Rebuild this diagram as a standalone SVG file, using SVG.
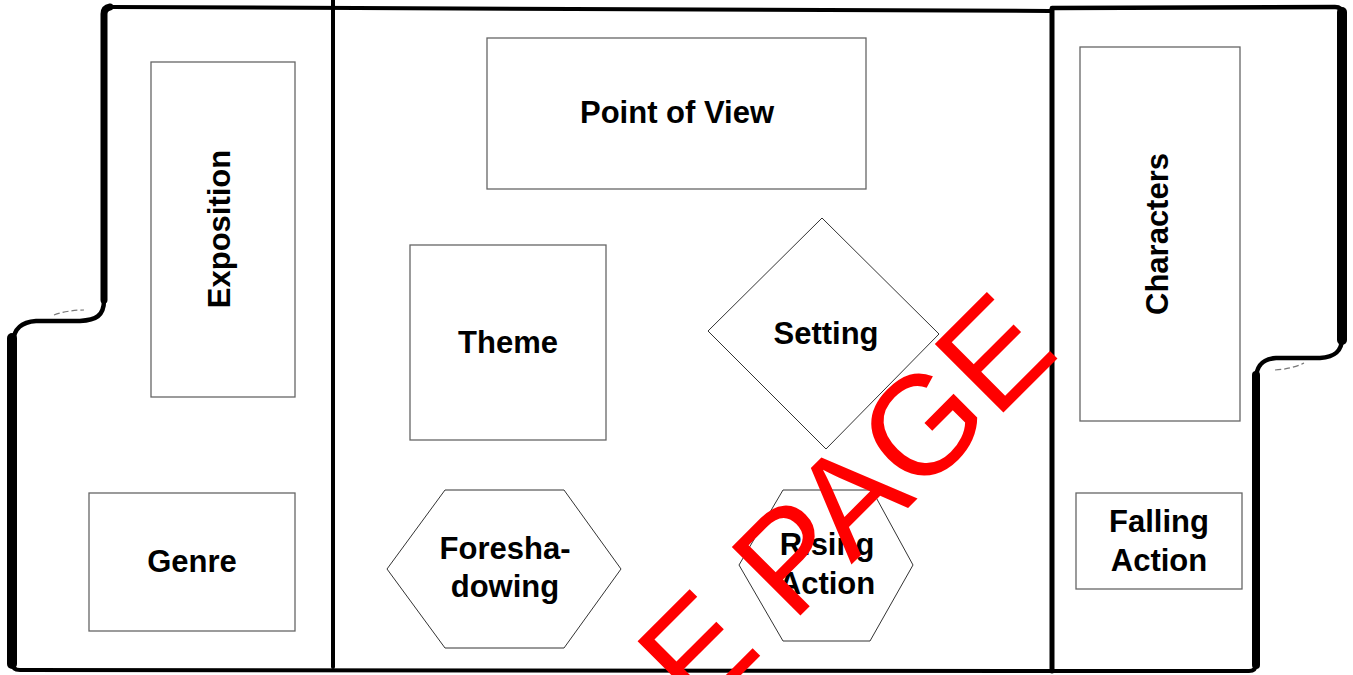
<svg xmlns="http://www.w3.org/2000/svg" width="1353" height="675" viewBox="0 0 1353 675">
<style>
.box{fill:none;stroke:#666;stroke-width:1.3}
.shape{fill:none;stroke:#333;stroke-width:1}
.lbl{font-family:"Liberation Sans",Arial,sans-serif;font-weight:bold;font-size:31px;fill:#000;text-anchor:middle}
.frame{fill:none;stroke:#000;stroke-linecap:round;stroke-linejoin:round}
.fold{fill:none;stroke:#777;stroke-width:1.2;stroke-dasharray:6 3}
.wm{font-family:"Liberation Sans",Arial,sans-serif;font-size:141px;fill:#ff0000}
</style>
<rect width="1353" height="675" fill="#fff"/>
<g id="frame">
  <path class="frame" stroke-width="4" d="M110,7 L1050,11"/>
  <path class="frame" stroke-width="7" d="M104,300 L104,14 Q104,8 110,7"/>
  <path class="frame" stroke-width="4.5" d="M104,300 C104,316 96,320 80,321 L36,321 C22,322 14,328 13,342"/>
  <path class="frame" stroke-width="10" d="M12,338 L12,664"/>
  <path class="frame" stroke-width="4" d="M12,662 Q12,670 20,670 L1052,671"/>
  <path class="frame" stroke-width="4" d="M333,0 L333,667"/>
  <path class="frame" stroke-width="5" d="M1052,9 L1052,671"/>
  <path class="frame" stroke-width="4.5" d="M1052,8 L1335,7 Q1342,7 1342,14"/>
  <path class="frame" stroke-width="10" d="M1342,12 L1342,340"/>
  <path class="frame" stroke-width="4.5" d="M1342,338 C1342,352 1334,357 1320,358 L1276,358 C1263,359 1256,365 1256,380"/>
  <path class="frame" stroke-width="8" d="M1256,375 L1256,665"/>
  <path class="frame" stroke-width="4" d="M1256,664 Q1256,671 1249,671 L1052,671"/>
  <path class="fold" d="M54,315 Q68,310 84,310"/>
  <path class="fold" d="M1275,370 Q1292,369 1304,363"/>
</g>
<g id="connectors"></g>
<g id="exposition">
  <rect class="box" x="151" y="62" width="144" height="335"/>
  <text class="lbl" transform="translate(230,229) rotate(-90)">Exposition</text>
</g>
<g id="genre">
  <rect class="box" x="89" y="493" width="206" height="138"/>
  <text class="lbl" x="192" y="572">Genre</text>
</g>
<g id="point-of-view">
  <rect class="box" x="487" y="38" width="379" height="151"/>
  <text class="lbl" x="677" y="123">Point of View</text>
</g>
<g id="theme">
  <rect class="box" x="410" y="245" width="196" height="195"/>
  <text class="lbl" x="508" y="353">Theme</text>
</g>
<g id="setting">
  <polygon class="shape" points="822,218 939,334 826,449 708,331"/>
  <text class="lbl" x="826" y="344">Setting</text>
</g>
<g id="foreshadowing">
  <polygon class="shape" points="445,490 564,490 621,569 564,648 445,648 387,569"/>
  <text class="lbl" x="505" y="559">Foresha-</text>
  <text class="lbl" x="505" y="597">dowing</text>
</g>
<g id="rising-action">
  <polygon class="shape" points="783,490 872,490 913,565 870,641 783,641 739,565"/>
  <text class="lbl" x="827" y="555">Rising</text>
  <text class="lbl" x="827" y="594">Action</text>
</g>
<g id="characters">
  <rect class="box" x="1080" y="47" width="160" height="374"/>
  <text class="lbl" transform="translate(1168,234) rotate(-90)">Characters</text>
</g>
<g id="falling-action">
  <rect class="box" x="1076" y="493" width="166" height="96"/>
  <text class="lbl" x="1159" y="532">Falling</text>
  <text class="lbl" x="1159" y="571">Action</text>
</g>
<g id="watermark">
  <text class="wm" transform="translate(698,718) rotate(-45)">E PAGE</text>
</g>
</svg>
